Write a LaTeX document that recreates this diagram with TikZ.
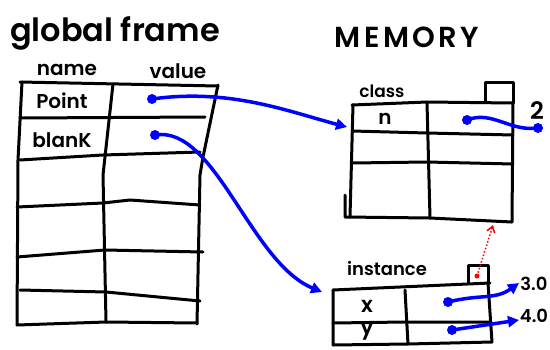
\documentclass[tikz,border=0pt]{standalone}
\usepackage{fontspec}
\setmainfont{Poppins}[BoldFont={Poppins SemiBold}]
\newfontfamily\spaced{Poppins SemiBold}[LetterSpace=12]
\usetikzlibrary{arrows.meta}

\tikzset{
  ink/.style={line width=3pt, line cap=round, line join=round},
  ptr/.style={line width=3.5pt, blue, line cap=round, -{Triangle[length=11pt,width=11pt]}},
  wire/.style={line width=3.5pt, blue, line cap=round},
  blob/.style={circle, fill=blue, inner sep=0pt, minimum size=10pt},
  hand/.style={inner sep=0pt, font=\bfseries\fontsize{20}{20}\selectfont},
}

\begin{document}
\begin{tikzpicture}[x=1pt, y=-1pt]
\useasboundingbox (0,0) rectangle (550,349);

\node[hand, font=\bfseries\fontsize{32}{32}\selectfont] (globalframe) at (115,33) {global frame};
\node[hand] (name) at (67,70) {name};
\node[hand] (value) at (178,71) {value};
\node[hand] (Point) at (62,101) {Point};
\node[hand] (blanK) at (62,140) {blanK};

\draw[ink] (22,82) -- (18,160) -- (17,325);
\draw[ink] (113,84) -- (103,175) -- (106,322);
\draw[ink] (218,85) -- (203,157) -- (200,175) -- (197,324);
\draw[ink] (20,82) -- (218,86);
\draw[ink] (20,118) -- (205,117);
\draw[ink] (20,160) -- (103,155) -- (200,152);
\draw[ink] (17,207) -- (103,203) -- (130,200) -- (200,205);
\draw[ink] (17,257) -- (105,250) -- (203,252);
\draw[ink] (20,290) -- (106,292) -- (200,301);
\draw[ink] (17,325) -- (106,322) -- (197,323);

\node[hand, font=\spaced\fontsize{29}{29}\selectfont] (memory) at (407,37) {MEMORY};
\node[hand, font=\bfseries\fontsize{17}{17}\selectfont] (class) at (382,91) {class};
\node[hand] (n) at (385,119) {n};
\node[hand, font=\bfseries\fontsize{24}{24}\selectfont] (two) at (537,111) {2};

\draw[ink] (352,105) -- (427,102) -- (513,103);
\draw[ink] (485,102) -- (485,82) -- (513,82) -- (513,103);
\draw[ink] (352,131) -- (427,133) -- (513,135);
\draw[ink] (352,163) -- (427,162) -- (513,164);
\draw[ink] (353,105) -- (350,217);
\draw[ink] (345,195) -- (345,217) -- (430,218) -- (512,222);
\draw[ink] (427,102) -- (430,218);
\draw[ink] (513,103) -- (512,222);

\node[hand, font=\bfseries\fontsize{18}{18}\selectfont] (instance) at (387,269) {instance};
\node[hand, font=\bfseries\fontsize{22}{22}\selectfont] (x) at (367,306) {x};
\node[hand, font=\bfseries\fontsize{22}{22}\selectfont] (y) at (367,331) {y};
\node[hand, font=\bfseries\fontsize{18}{18}\selectfont] (three) at (534,284) {3.0};
\node[hand, font=\bfseries\fontsize{18}{18}\selectfont] (four) at (534,316) {4.0};

\draw[ink] (333,290) -- (490,283);
\draw[ink] (468,283) -- (468,265) -- (488,265) -- (488,283);
\draw[ink] (333,323) -- (405,322) -- (490,322);
\draw[ink] (333,290) -- (333,345) -- (408,344) -- (492,342) -- (488,283);
\draw[ink] (405,290) -- (408,344);

\coordinate (pointval) at (152,99);
\coordinate (blankval) at (155,135);
\coordinate (classin) at (347,127);
\coordinate (instin) at (322,292);
\coordinate (nval) at (467,120);
\coordinate (nend) at (538,128);
\coordinate (xval) at (448,302);
\coordinate (xend) at (519,283);
\coordinate (yval) at (452,330);
\coordinate (yend) at (519,320);
\coordinate (tag) at (477,276);
\coordinate (classbot) at (493,225);

\node[blob] at (pointval) {};
\node[blob] at (blankval) {};
\node[blob] at (nval) {};
\node[blob] at (nend) {};
\node[blob] at (xval) {};
\node[blob] at (yval) {};
\fill[red] (tag) circle (2.5pt);

\draw[ptr] (pointval) .. controls (230,88) and (290,112) .. (classin);
\draw[ptr] (blankval) .. controls (215,125) and (250,262) .. (instin);
\draw[wire] (nval) .. controls (492,110) and (510,132) .. (nend);
\draw[ptr] (xval) .. controls (480,294) and (495,300) .. (xend);
\draw[ptr] (yval) -- (yend);
\draw[red, line width=1.5pt, dotted, -{Straight Barb[length=6pt,width=8pt]}] (tag) -- (classbot);
\end{tikzpicture}
\end{document}
